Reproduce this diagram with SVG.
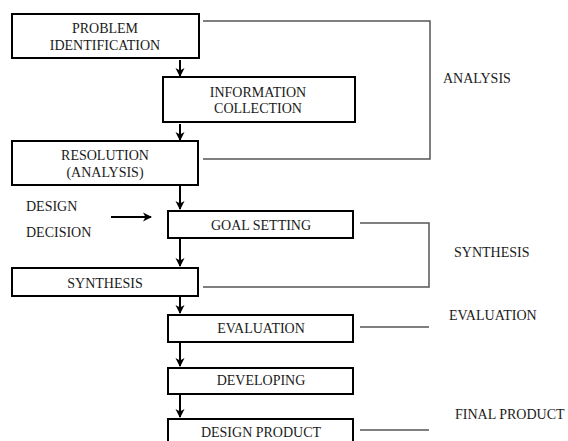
<svg xmlns="http://www.w3.org/2000/svg" width="568" height="441" viewBox="0 0 568 441">
<style>
.box{fill:#fff;stroke:#000;stroke-width:2}
.t{font-family:"Liberation Serif","Times New Roman",serif;font-size:14px;fill:#1a1a1a}
.c{text-anchor:middle}
.arr{stroke:#000;stroke-width:2;fill:none;marker-end:url(#ah)}
.br{stroke:#555;stroke-width:1.5;fill:none}
</style>
<defs>
<marker id="ah" markerWidth="10" markerHeight="10" refX="8" refY="5" orient="auto" markerUnits="userSpaceOnUse">
<path d="M0,0.5 L9,5 L0,9.5 L2.5,5 z" fill="#000"/>
</marker>
</defs>
<rect width="568" height="441" fill="#fff"/>
<g id="connectors">
<path class="arr" d="M180,60 V76"/>
<path class="arr" d="M180,124 V140"/>
<path class="arr" d="M180,186 V209"/>
<path class="arr" d="M180,239 V266"/>
<path class="arr" d="M180,297 V313"/>
<path class="arr" d="M180,343 V366"/>
<path class="arr" d="M180,395 V417"/>
<path class="arr" d="M111,217 H151"/>
<path class="br" d="M203,21 H430 V159 H203"/>
<path class="br" d="M360,223 H429 V287 H203"/>
<path class="br" d="M360,327 H429"/>
<path class="br" d="M360,430 H429"/>
</g>
<g id="problem-identification">
<rect class="box" x="12" y="14" width="187" height="44"/>
<text class="t c" x="105" y="33">PROBLEM</text>
<text class="t c" x="105" y="49.5">IDENTIFICATION</text>
</g>
<g id="information-collection">
<rect class="box" x="163" y="77" width="192" height="45"/>
<text class="t c" x="258" y="97">INFORMATION</text>
<text class="t c" x="258" y="113">COLLECTION</text>
</g>
<g id="resolution">
<rect class="box" x="12" y="141" width="186" height="44"/>
<text class="t c" x="105" y="160">RESOLUTION</text>
<text class="t c" x="105" y="177">(ANALYSIS)</text>
</g>
<g id="design-decision">
<text class="t" x="26" y="211">DESIGN</text>
<text class="t" x="26" y="237">DECISION</text>
</g>
<g id="goal-setting">
<rect class="box" x="168" y="211" width="185" height="27"/>
<text class="t c" x="261" y="230">GOAL SETTING</text>
</g>
<g id="synthesis">
<rect class="box" x="12" y="268" width="186" height="28"/>
<text class="t c" x="105" y="288">SYNTHESIS</text>
</g>
<g id="evaluation">
<rect class="box" x="168" y="315" width="185" height="27"/>
<text class="t c" x="261" y="333">EVALUATION</text>
</g>
<g id="developing">
<rect class="box" x="168" y="368" width="185" height="26"/>
<text class="t c" x="261" y="385">DEVELOPING</text>
</g>
<g id="design-product">
<rect class="box" x="168" y="419" width="185" height="24"/>
<text class="t c" x="261" y="437">DESIGN PRODUCT</text>
</g>
<g id="labels">
<text class="t" x="443" y="83">ANALYSIS</text>
<text class="t" x="454" y="257">SYNTHESIS</text>
<text class="t" x="449" y="320">EVALUATION</text>
<text class="t" x="455" y="419">FINAL PRODUCT</text>
</g>
</svg>
